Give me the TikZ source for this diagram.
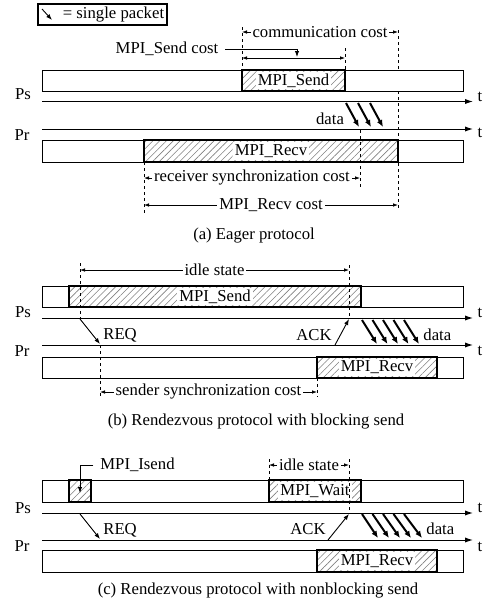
\documentclass[tikz,border=0pt]{standalone}
\usepackage{fontspec}
\setmainfont{Liberation Serif}
\usetikzlibrary{arrows.meta,patterns.meta}

\begin{document}
\begin{tikzpicture}[x=0.5pt,y=-0.5pt]
    \tikzset{font={\fontsize{8.35pt}{10pt}\selectfont},
      bar/.style={draw,line width=.5pt},
      busy/.style={draw,line width=.6pt,pattern={Lines[angle=45,distance=2.4pt,line width=.3pt]},pattern color=gray},
      lbl/.style={fill=white,inner sep=1pt},
      tline/.style={-{Latex[length=4pt,width=2.6pt]},line width=.5pt},
      pkt/.style={-{Latex[length=3.5pt,width=3pt]},line width=1pt},
      msg/.style={-{Latex[length=3pt,width=2.2pt]},line width=.45pt},
      dim/.style={{Latex[length=2.5pt,width=1.8pt]}-{Latex[length=2.5pt,width=1.8pt]},line width=.4pt},
      guide/.style={dash pattern=on 1.5pt off 1.5pt,line width=.4pt}}
    \useasboundingbox (0,0) rectangle (495,606);

    % legend
    \node[draw,line width=.9pt,inner sep=1.5pt,anchor=west] (legend) at (37,14.5) {\hspace{11pt}= single packet};
    \coordinate (pkt0) at (42,9); \coordinate (pkt1) at (52,20);
    \draw[msg] (pkt0) -- (pkt1);

    % (a) eager protocol
    \draw[bar] (42,70) rectangle (463,91);
    \draw[busy] (242,70) rectangle (345,91);
    \node[lbl] (sendA) at (293.5,80.5) {MPI\_Send};
    \draw[bar] (42,140) rectangle (463,162);
    \draw[busy] (144,140) rectangle (398,162);
    \node[lbl] (recvA) at (271,151) {MPI\_Recv};
    \coordinate (psA0) at (42,101.5); \coordinate (psA1) at (473,101.5);
    \coordinate (prA0) at (42,129); \coordinate (prA1) at (473,129);
    \draw[tline] (psA0) -- (psA1);
    \draw[tline] (prA0) -- (prA1);
    \node (PsA) at (23,94) {Ps};
    \node (PrA) at (22,135) {Pr};
    \node (tsA) at (480,97) {t};
    \node (trA) at (480,133) {t};
    \foreach \i in {0,1,2}{
      \coordinate (daA\i) at (346+12*\i,103);
      \coordinate (dbA\i) at (359+12*\i,127);
      \draw[pkt] (daA\i) -- (dbA\i);
    }
    \node (dataA) at (330,119) {data};
    \draw[guide] (242,27)--(242,70);
    \draw[guide] (345,48)--(345,70);
    \draw[guide] (398,30)--(398,70);
    \draw[guide] (398,91)--(398,210);
    \draw[guide] (360,130)--(360,187);
    \draw[guide] (144,162)--(144,213);
    \coordinate (commA) at (242,32); \coordinate (commB) at (398,32);
    \draw[dim] (commA) -- (commB) node[midway,lbl] (comm) {communication cost};
    \coordinate (scA) at (242,58); \coordinate (scB) at (345,58);
    \draw[dim] (scA) -- (scB);
    \node (sendcost) at (167,49) {MPI\_Send cost};
    \coordinate (sendcostEnd) at (297,57);
    \draw[msg] (sendcost.east) -| (sendcostEnd);
    \coordinate (rsA) at (144,178); \coordinate (rsB) at (360,178);
    \draw[dim] (rsA) -- (rsB) node[midway,lbl] (rsync) {receiver synchronization cost};
    \coordinate (rcA) at (144,205); \coordinate (rcB) at (398,205);
    \draw[dim] (rcA) -- (rcB) node[midway,lbl] (rcost) {MPI\_Recv cost};
    \node (capA) at (254,236) {(a) Eager protocol};

    % (b) rendezvous, blocking send
    \draw[bar] (42,286) rectangle (463,307);
    \draw[busy] (69,286) rectangle (361,307);
    \node[lbl] (sendB) at (215,296.5) {MPI\_Send};
    \draw[bar] (42,357) rectangle (463,378);
    \draw[busy] (317,357) rectangle (437,378);
    \node[lbl] (recvB) at (377,367.5) {MPI\_Recv};
    \coordinate (psB0) at (42,318); \coordinate (psB1) at (473,318);
    \coordinate (prB0) at (42,345); \coordinate (prB1) at (473,345);
    \draw[tline] (psB0) -- (psB1);
    \draw[tline] (prB0) -- (prB1);
    \node (PsB) at (23,312) {Ps};
    \node (PrB) at (22,351) {Pr};
    \node (tsB) at (480,313) {t};
    \node (trB) at (480,351) {t};
    \draw[guide] (80,263)--(80,319);
    \draw[guide] (349,265)--(349,319);
    \draw[guide] (100,345)--(100,397);
    \draw[guide] (317,378)--(317,397);
    \coordinate (reqB0) at (80,319); \coordinate (reqB1) at (100,344);
    \draw[msg] (reqB0) -- (reqB1);
    \node[anchor=west,inner sep=1pt] (reqB) at (101,335) {REQ};
    \coordinate (ackB0) at (335,345); \coordinate (ackB1) at (349,319);
    \draw[msg] (ackB0) -- (ackB1);
    \node[anchor=east,inner sep=1pt] (ackB) at (334,335) {ACK};
    \foreach \i in {0,...,4}{
      \coordinate (daB\i) at (362+10.5*\i,320);
      \coordinate (dbB\i) at (377+10.5*\i,344);
      \draw[pkt] (daB\i) -- (dbB\i);
    }
    \node[anchor=west,inner sep=1pt] (dataB) at (421,335) {data};
    \coordinate (idleB0) at (80,270); \coordinate (idleB1) at (349,270);
    \draw[dim] (idleB0) -- (idleB1) node[midway,lbl] (idleB) {idle state};
    \coordinate (ssB0) at (100,392); \coordinate (ssB1) at (317,392);
    \draw[dim] (ssB0) -- (ssB1) node[midway,lbl] (ssync) {sender synchronization cost};
    \node (capB) at (256,422) {(b) Rendezvous protocol with blocking send};

    % (c) rendezvous, nonblocking send
    \draw[bar] (42,480) rectangle (463,502);
    \draw[busy] (69,480) rectangle (91,502);
    \draw[busy] (269,480) rectangle (361,502);
    \node[lbl] (waitC) at (315,491) {MPI\_Wait};
    \draw[bar] (42,550) rectangle (463,572);
    \draw[busy] (317,550) rectangle (437,572);
    \node[lbl] (recvC) at (377,561) {MPI\_Recv};
    \node (isend) at (137.5,465) {MPI\_Isend};
    \coordinate (isendEnd) at (80,493);
    \draw[msg] (isend.west) -| (isendEnd);
    \coordinate (psC0) at (42,513); \coordinate (psC1) at (473,513);
    \coordinate (prC0) at (42,540); \coordinate (prC1) at (473,540);
    \draw[tline] (psC0) -- (psC1);
    \draw[tline] (prC0) -- (prC1);
    \node (PsC) at (23,508) {Ps};
    \node (PrC) at (22,546) {Pr};
    \node (tsC) at (480,508) {t};
    \node (trC) at (480,547) {t};
    \draw[guide] (269,459)--(269,480);
    \draw[guide] (349,459)--(349,514);
    \coordinate (reqC0) at (80,514); \coordinate (reqC1) at (100,539);
    \draw[msg] (reqC0) -- (reqC1);
    \node[anchor=west,inner sep=1pt] (reqC) at (101,530) {REQ};
    \coordinate (ackC0) at (328,540); \coordinate (ackC1) at (349,514);
    \draw[msg] (ackC0) -- (ackC1);
    \node[anchor=east,inner sep=1pt] (ackC) at (328,529) {ACK};
    \foreach \i in {0,...,4}{
      \coordinate (daC\i) at (362+10.5*\i,514);
      \coordinate (dbC\i) at (378+11*\i,538);
      \draw[pkt] (daC\i) -- (dbC\i);
    }
    \node[anchor=west,inner sep=1pt] (dataC) at (424,529) {data};
    \coordinate (idleC0) at (269,465); \coordinate (idleC1) at (349,465);
    \draw[dim] (idleC0) -- (idleC1) node[midway,lbl] (idleC) {idle state};
    \node (capC) at (258,591) {(c) Rendezvous protocol with nonblocking send};
\end{tikzpicture}
\end{document}
